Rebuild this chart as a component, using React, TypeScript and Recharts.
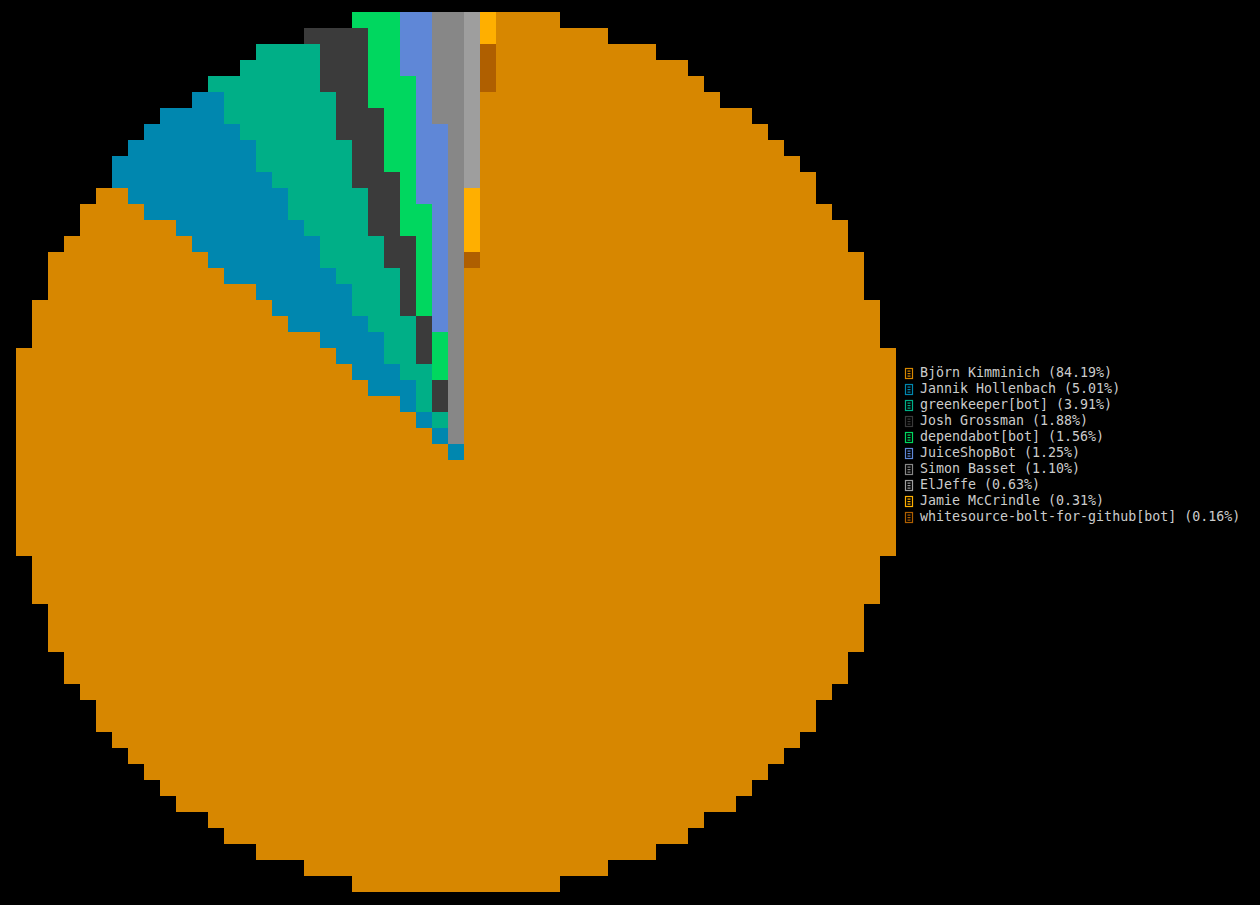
import { Cell, Pie, PieChart } from "recharts";

const names = [
  "Björn Kimminich",
  "Jannik Hollenbach",
  "greenkeeper[bot]",
  "Josh Grossman",
  "dependabot[bot]",
  "JuiceShopBot",
  "Simon Basset",
  "ElJeffe",
  "Jamie McCrindle",
  "whitesource-bolt-for-github[bot]",
];

const shares = [84.19, 5.01, 3.91, 1.88, 1.56, 1.25, 1.1, 0.63, 0.31, 0.16];

const colors = [
  "#d78700",
  "#0087af",
  "#00af87",
  "#3a3a3a",
  "#00d75f",
  "#5f87d7",
  "#878787",
  "#9e9e9e",
  "#ffaf00",
  "#af5f00",
];

const data = names.map((name, i) => ({ name, value: shares[i] }));

const mono = "'DejaVu Sans Mono', 'Liberation Mono', monospace";

// terminal look: sample one pixel per 16x16 cell, grow it to 15px, then close the 1px gaps
function BlockFilter() {
  return (
    <svg width={0} height={0} style={{ position: "absolute" }}>
      <defs>
        <filter id="blocks" filterUnits="userSpaceOnUse" x={0} y={0} width={1260} height={905}>
          <feFlood x={7} y={3} width={1} height={1} floodColor="#000" />
          <feComposite x={0} y={0} width={16} height={16} />
          <feTile result="grid" />
          <feComposite in="SourceGraphic" in2="grid" operator="in" result="dots" />
          <feMorphology in="dots" operator="dilate" radius={7} result="d" />
          <feOffset in="d" dx={1} dy={0} result="dShift" />
          <feMerge result="h">
            <feMergeNode in="dShift" />
            <feMergeNode in="d" />
          </feMerge>
          <feOffset in="h" dx={0} dy={1} result="hShift" />
          <feMerge>
            <feMergeNode in="hShift" />
            <feMergeNode in="h" />
          </feMerge>
        </filter>
      </defs>
    </svg>
  );
}

function LegendList() {
  return (
    <div
      style={{
        position: "absolute",
        left: 904,
        top: 365,
        fontFamily: mono,
        fontSize: 13.3,
        lineHeight: "16px",
        color: "#cccccc",
        whiteSpace: "pre",
      }}
    >
      {data.map((d, i) => (
        <div key={d.name} style={{ display: "flex", alignItems: "center", height: 16 }}>
          <svg width={16} height={16} style={{ flex: "none" }}>
            <rect x={1.5} y={3.5} width={7} height={10} fill="none" stroke={colors[i]} strokeWidth={1.2} />
            <rect x={3.5} y={5.5} width={3} height={1.2} fill={colors[i]} />
            <rect x={3.5} y={8} width={3} height={1.2} fill={colors[i]} />
            <rect x={3.5} y={10.5} width={3} height={1.2} fill={colors[i]} />
          </svg>
          <span>{`${d.name} (${d.value.toFixed(2)}%)`}</span>
        </div>
      ))}
    </div>
  );
}

export default function App() {
  return (
    <div
      style={{
        position: "absolute",
        left: 0,
        top: 0,
        width: 1260,
        height: 905,
        background: "#000000",
        overflow: "hidden",
      }}
    >
      <BlockFilter />
      <div
        style={{
          position: "absolute",
          left: 0,
          top: 0,
          width: 1260,
          height: 905,
          filter: "url(#blocks)",
          shapeRendering: "crispEdges",
        }}
      >
        <PieChart width={1260} height={905} margin={{ top: 0, right: 0, bottom: 0, left: 0 }}>
          <Pie
            data={data}
            dataKey="value"
            nameKey="name"
            cx={456}
            cy={452}
            outerRadius={445}
            startAngle={85}
            endAngle={-275}
            stroke="none"
            isAnimationActive={false}
          >
            {data.map((d, i) => (
              <Cell key={d.name} fill={colors[i]} />
            ))}
          </Pie>
        </PieChart>
      </div>
      <LegendList />
    </div>
  );
}
